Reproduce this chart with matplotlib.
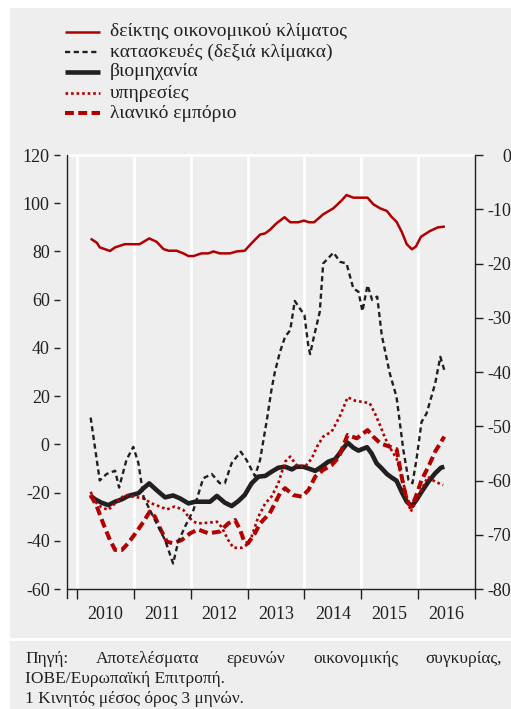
import matplotlib
matplotlib.use("Agg")
import matplotlib.pyplot as plt
from matplotlib.lines import Line2D
from matplotlib.patches import Rectangle
import numpy as np

plt.rcParams['font.family'] = ['Liberation Serif', 'DejaVu Serif']
plt.rcParams['axes.unicode_minus'] = False

# --- data, time in decimal years ---
climate_t = [2010.24, 2010.35, 2010.40, 2010.58, 2010.67, 2010.84, 2011.10, 2011.27, 2011.40, 2011.52,
             2011.61, 2011.75, 2011.87, 2011.96, 2012.05, 2012.19, 2012.31, 2012.40, 2012.51, 2012.69,
             2012.81, 2012.95, 2013.07, 2013.22, 2013.31, 2013.39, 2013.51, 2013.65, 2013.75, 2013.89,
             2013.99, 2014.08, 2014.17, 2014.33, 2014.51, 2014.66, 2014.74, 2014.86, 2015.11, 2015.21,
             2015.33, 2015.45, 2015.53, 2015.62, 2015.71, 2015.80, 2015.89, 2015.96, 2016.05, 2016.21,
             2016.35, 2016.47]
climate_v = [85.3, 83.6, 81.7, 80.2, 81.7, 83, 83, 85.4, 84, 81,
             80.3, 80.3, 79.2, 78.1, 78.1, 79.2, 79.2, 80, 79.2, 79.2,
             80, 80.3, 83.4, 87, 87.5, 88.9, 91.7, 94.2, 92.1, 92.1,
             92.8, 92.1, 92.1, 95.4, 97.9, 101.3, 103.4, 102.3, 102.3, 99.6,
             97.9, 96.8, 94.4, 92.3, 88.2, 83, 80.9, 82, 86.1, 88.5,
             90, 90.3]

constr_t = [2010.24, 2010.40, 2010.52, 2010.67, 2010.74, 2010.87, 2010.99, 2011.08, 2011.17, 2011.28,
            2011.43, 2011.55, 2011.69, 2011.78, 2011.90, 2012.05, 2012.22, 2012.37, 2012.51, 2012.60,
            2012.72, 2012.88, 2012.98, 2013.13, 2013.22, 2013.34, 2013.42, 2013.48, 2013.57, 2013.66,
            2013.75, 2013.83, 2013.92, 2014.00, 2014.07, 2014.10, 2014.16, 2014.27, 2014.33, 2014.51,
            2014.63, 2014.74, 2014.86, 2014.95, 2015.02, 2015.11, 2015.19, 2015.28, 2015.36, 2015.50,
            2015.62, 2015.74, 2015.83, 2015.90, 2015.97, 2016.06, 2016.15, 2016.30, 2016.39, 2016.47]
constr_v = [-48.4, -60, -58.8, -58.2, -61.3, -56.2, -53.8, -56.8, -63, -65.4,
            -68.5, -71, -75.3, -71.3, -68.5, -65.4, -59.6, -58.8, -60.5, -60.5,
            -56.8, -54.7, -56.2, -59.2, -56.2, -48.8, -43.3, -40, -36.3, -33.5,
            -32.3, -26.9, -28.3, -29.5, -35.3, -36.7, -33.8, -28.9, -20, -18,
            -19.7, -20, -24.6, -25.2, -28.8, -24, -26.7, -26.1, -33.2, -40.2,
            -44.6, -54.4, -59.9, -60.5, -56.2, -49.2, -47.6, -42.1, -37.2, -40]

industry_t = [2010.24, 2010.32, 2010.43, 2010.55, 2010.67, 2010.79, 2010.90, 2011.08, 2011.17, 2011.27,
              2011.40, 2011.55, 2011.69, 2011.81, 2011.96, 2012.08, 2012.34, 2012.46, 2012.60, 2012.72,
              2012.84, 2012.95, 2013.07, 2013.19, 2013.31, 2013.42, 2013.54, 2013.66, 2013.78, 2013.86,
              2013.98, 2014.07, 2014.19, 2014.30, 2014.42, 2014.54, 2014.66, 2014.76, 2014.86, 2014.95,
              2015.10, 2015.18, 2015.27, 2015.36, 2015.45, 2015.53, 2015.62, 2015.71, 2015.80, 2015.89,
              2015.97, 2016.06, 2016.18, 2016.30, 2016.40, 2016.46]
industry_v = [-21.4, -22.8, -24.2, -25.2, -23.8, -22.8, -21.4, -20.3, -18.2, -16.2,
              -19, -22, -21.2, -22.4, -24.5, -23.8, -23.8, -21.4, -24.2, -25.6,
              -23.5, -21, -16.2, -13.4, -13.1, -11.4, -9.7, -9.3, -10.4, -9.3,
              -9.3, -10, -11, -9.3, -7.2, -6.2, -2.4, 0.7, -1.4, -2.6,
              -1.2, -3.7, -7.9, -10, -12.3, -13.7, -15.1, -19.7, -23.8, -25.6,
              -23.1, -19.7, -15.5, -12, -9.7, -9.3]

services_t = [2010.24, 2010.32, 2010.43, 2010.55, 2010.70, 2010.84, 2010.99, 2011.17, 2011.31, 2011.49,
              2011.58, 2011.72, 2011.87, 2011.96, 2012.05, 2012.13, 2012.31, 2012.46, 2012.54, 2012.66,
              2012.75, 2012.90, 2012.98, 2013.07, 2013.19, 2013.31, 2013.42, 2013.54, 2013.66, 2013.75,
              2013.86, 2014.01, 2014.13, 2014.22, 2014.33, 2014.48, 2014.63, 2014.76, 2014.89, 2015.07,
              2015.15, 2015.24, 2015.33, 2015.42, 2015.53, 2015.62, 2015.71, 2015.80, 2015.87, 2015.94,
              2016.03, 2016.17, 2016.30, 2016.44]
services_v = [-19.7, -23.8, -26.1, -27.2, -23.8, -21, -21.7, -22.4, -24.5, -26.1,
              -27, -25.8, -27.2, -30, -32.1, -32.8, -32.5, -32.1, -34.2, -39.7,
              -42.9, -42.9, -41.8, -38.3, -30, -24.5, -21.7, -16.2, -7.2, -5.1,
              -8.6, -9.3, -5.8, -1, 3.2, 5.3, 12, 19.5, 18.1, 17.4,
              17, 12.8, 7.9, 2.5, -2.4, -5.8, -13.4, -21.7, -27.9, -24.5,
              -20.3, -13.5, -15.5, -16.9]

retail_t = [2010.24, 2010.35, 2010.46, 2010.58, 2010.67, 2010.79, 2010.90, 2011.05, 2011.17, 2011.28,
            2011.37, 2011.46, 2011.58, 2011.69, 2011.84, 2011.99, 2012.13, 2012.31, 2012.51, 2012.66,
            2012.78, 2012.87, 2012.95, 2013.01, 2013.13, 2013.22, 2013.39, 2013.48, 2013.57, 2013.66,
            2013.80, 2013.95, 2014.07, 2014.19, 2014.33, 2014.48, 2014.60, 2014.76, 2014.92, 2015.11,
            2015.21, 2015.33, 2015.50, 2015.62, 2015.71, 2015.77, 2015.83, 2015.89, 2015.97, 2016.06,
            2016.18, 2016.30, 2016.46]
retail_v = [-21, -25.8, -32.8, -39.7, -43.8, -43.8, -41, -36.2, -32.1, -27.9,
            -30, -34.8, -40.4, -41, -39.7, -36.9, -35.3, -36.9, -36.2, -32.8,
            -31.4, -35.5, -41, -41, -36.9, -32.8, -28.6, -24.5, -20.3, -18.2,
            -21, -21.7, -19, -13.4, -10.6, -8.6, -5.5, 3.9, 2.5, 5.9,
            3.2, 0.5, -1, -2, -13.4, -20.3, -24.5, -25.8, -21, -14.8,
            -9.3, -3, 3.2]

labels = ['δείκτης οικονομικού κλίματος', 'κατασκευές (δεξιά κλίμακα)', 'βιομηχανία',
          'υπηρεσίες', 'λιανικό εμπόριο']
years = [2010, 2011, 2012, 2013, 2014, 2015, 2016]
left_ticks = [120, 100, 80, 60, 40, 20, 0, -20, -40, -60]
right_ticks = [0, -10, -20, -30, -40, -50, -60, -70, -80]
source_words = ['Πηγή:', 'Αποτελέσματα', 'ερευνών', 'οικονομικής', 'συγκυρίας,']
source_line2 = 'ΙΟΒΕ/Ευρωπαϊκή Επιτροπή.'
source_line3 = '1 Κινητός μέσος όρος 3 μηνών.'

RED = '#b20000'
BLK = '#231f20'
BG = '#eeeeee'
TXT = '#231f20'

W, H = 511, 709
fig = plt.figure(figsize=(W / 100, H / 100), dpi=100, facecolor='white')
fig.patches.append(Rectangle((10 / W, 0), 1, (H - 8) / H, transform=fig.transFigure,
                             facecolor=BG, edgecolor='none', zorder=-10))

ax = fig.add_axes([67 / W, (H - 589) / H, (475 - 67) / W, (589 - 155) / H])
ax.set_facecolor(BG)
ax2 = ax.twinx()

styles = [
    dict(color=RED, lw=1.8, solid_capstyle='butt'),
    dict(color=BLK, lw=1.7, dashes=(2.2, 1.5)),
    dict(color=BLK, lw=3.3, solid_capstyle='butt'),
    dict(color=RED, lw=1.9, dashes=(1, 1.1)),
    dict(color=RED, lw=2.9, dashes=(2.2, 1.1)),
]

ax.plot(climate_t, climate_v, zorder=3, **styles[0])
ax.plot(industry_t, industry_v, zorder=3, **styles[2])
ax.plot(services_t, services_v, zorder=4, **styles[3])
ax.plot(retail_t, retail_v, zorder=4, **styles[4])
ax2.plot(constr_t, constr_v, zorder=3, **styles[1])

for y in years:
    ax.axvline(y, color='white', lw=2, zorder=1)

ax.set_xlim(2010 - 10 / 56.86, 2017)
ax.set_ylim(-60, 120)
ax2.set_ylim(-80, 0)

# spines
ax.spines['top'].set_color('white')
ax.spines['top'].set_linewidth(2)
ax.spines['right'].set_visible(False)
ax.spines['left'].set_position(('outward', 5))
ax.spines['left'].set_visible(False)
ax.spines['bottom'].set_color(BLK)
ax.spines['bottom'].set_linewidth(1)
ax.plot([0, 0], [-0.02, 1], transform=ax.transAxes, color=BLK, lw=1, clip_on=False, zorder=5)
for s in ['left', 'top', 'bottom']:
    ax2.spines[s].set_visible(False)
ax2.spines['right'].set_color(BLK)
ax2.spines['right'].set_linewidth(1)

# ticks
ax.set_yticks(left_ticks)
ax.set_yticklabels([str(v) for v in left_ticks])
ax.tick_params(axis='y', direction='out', length=4, width=1, color=BLK, pad=3.5,
               labelsize=13, labelcolor=TXT)
ax.set_xticks(years + [2017])
ax.set_xticklabels([])
ax.set_xticks([y + 0.5 for y in years], minor=True)
ax.set_xticklabels([str(y) for y in years], minor=True)
ax.tick_params(axis='x', which='major', direction='out', length=7, width=1, color=BLK)
ax.tick_params(axis='x', which='minor', length=0, pad=12, labelsize=13, labelcolor=TXT)

ax2.set_yticks(right_ticks)
ax2.set_yticklabels([str(v) for v in right_ticks])
ax2.tick_params(axis='y', direction='out', length=6, width=1, color=BLK, pad=20,
                labelsize=13, labelcolor=TXT)
for lab in ax2.get_yticklabels():
    lab.set_horizontalalignment('right')

# legend drawn by hand
rows = [32, 52, 72, 93, 113]
for lab, st, yr in zip(labels, styles, rows):
    yf = (H - yr) / H
    fig.add_artist(Line2D([65 / W, 100 / W], [yf, yf], transform=fig.transFigure, **st))
    fig.text(110 / W, yf, lab, fontsize=14, color=TXT, va='center', ha='left')

# separator and source note
fig.add_artist(Line2D([10 / W, 1], [(H - 639) / H] * 2, transform=fig.transFigure,
                      color='white', lw=2))

fig.canvas.draw()
rend = fig.canvas.get_renderer()
x0, x1 = 25, 502
base1 = (H - 663) / H
word_txt = [fig.text(0, base1, w, fontsize=12.5, color=TXT, va='baseline') for w in source_words]
widths = [t.get_window_extent(rend).width for t in word_txt]
gap = (x1 - x0 - sum(widths)) / (len(widths) - 1)
xpos = x0
for t, wdt in zip(word_txt, widths):
    t.set_x(xpos / W)
    xpos += wdt + gap
fig.text(x0 / W, (H - 683) / H, source_line2, fontsize=12.5, color=TXT, va='baseline')
fig.text(x0 / W, (H - 703) / H, source_line3, fontsize=12.5, color=TXT, va='baseline')

fig.savefig('out.png', dpi=100, facecolor=fig.get_facecolor())
